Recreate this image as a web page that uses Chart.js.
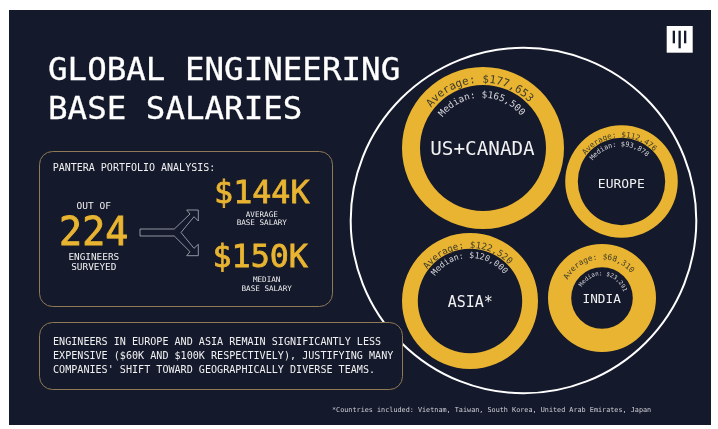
<!DOCTYPE html>
<html>
<head>
<meta charset="utf-8">
<script src="https://cdn.jsdelivr.net/npm/chart.js@4"></script>
<style>
  html, body { margin: 0; padding: 0; background: #fff; }
  #page { position: relative; width: 718px; height: 429px; overflow: hidden; }
  #panel { position: absolute; left: 9px; top: 9.5px; width: 701.5px; height: 415.5px; background: #15192c; }
  canvas { position: absolute; }
  #art { position: absolute; left: 0; top: 0; }
  text { font-family: "DejaVu Sans Mono", monospace; fill: #f1f1f1; dominant-baseline: central; }
</style>
</head>
<body>
<div id="page">
  <div id="panel"></div>
  <svg id="art" width="718" height="429" xmlns="http://www.w3.org/2000/svg"></svg>
</div>
<script>
const regions = ["US+CANADA", "EUROPE", "ASIA*", "INDIA"];
const averages = [177653, 112476, 122520, 68310];
const medians = [165500, 93878, 120000, 23291];

const GOLD = "#e8b431";
const DARK = "#15192c";

// where each ring sits
const rings = [
  { cx: 482.5, cy: 147.5, outer: 81, inner: 63, avgR: 65, avgFont: 10.9, avgRot: -3, medR: 50, medFont: 9.4, medRot: -1, nameFont: 19.3, nameY: 148 },
  { cx: 621.3, cy: 181.7, outer: 56.3, inner: 43.7, avgR: 44.5, avgFont: 7.6, avgRot: -3, medR: 35.5, medFont: 6.8, medRot: -4, nameFont: 13, nameY: 183 },
  { cx: 470.3, cy: 300.8, outer: 68, inner: 52.2, avgR: 53, avgFont: 9.1, avgRot: -3.5, medR: 43, medFont: 8.3, medRot: -1.5, nameFont: 15, nameY: 302 },
  { cx: 601.7, cy: 297.8, outer: 54, inner: 30.8, avgR: 38.5, avgFont: 7.8, avgRot: -6, medR: 22.5, medFont: 5.9, medRot: 6.5, nameFont: 12.7, nameY: 298 }
];

const svg = document.getElementById("art");
const page = document.getElementById("page");

function el(tag, attrs, txt) {
  const node = document.createElementNS("http://www.w3.org/2000/svg", tag);
  for (let k in attrs) node.setAttribute(k, attrs[k]);
  if (txt) node.textContent = txt;
  svg.appendChild(node);
  return node;
}

function label(str, x, y, size, opts) {
  opts = opts || {};
  let style = opts.color ? "fill:" + opts.color : "";
  if (opts.thick) style += `;stroke:${opts.color};stroke-width:${opts.thick}`;
  el("text", {
    x, y,
    "font-size": size,
    "text-anchor": opts.anchor || "middle",
    style
  }, str);
}

function money(v) {
  return "$" + v.toLocaleString("en-US");
}

function curved(id, str, ring, r, rot, size, color) {
  // arc over the top of the ring, tilted a little to match the reference
  const a = rot * Math.PI / 180;
  const x0 = ring.cx - r * Math.cos(a), y0 = ring.cy - r * Math.sin(a);
  const x1 = ring.cx + r * Math.cos(a), y1 = ring.cy + r * Math.sin(a);
  el("path", { id, d: `M${x0},${y0} A${r},${r} 0 0 1 ${x1},${y1}`, fill: "none" });
  const t = el("text", { "font-size": size, "text-anchor": "middle", style: `fill:${color};dominant-baseline:auto` });
  const tp = document.createElementNS("http://www.w3.org/2000/svg", "textPath");
  tp.setAttribute("href", "#" + id);
  tp.setAttribute("startOffset", "50%");
  tp.textContent = str;
  t.appendChild(tp);
}

regions.forEach((name, i) => {
  const ring = rings[i];
  const size = Math.ceil(ring.outer * 2) + 4;
  const canvas = document.createElement("canvas");
  canvas.width = size;
  canvas.height = size;
  canvas.style.left = (ring.cx - size / 2) + "px";
  canvas.style.top = (ring.cy - size / 2) + "px";
  page.insertBefore(canvas, svg);
  new Chart(canvas, {
    type: "doughnut",
    data: {
      labels: [name],
      datasets: [{ data: [averages[i]], backgroundColor: GOLD, borderWidth: 0 }]
    },
    options: {
      responsive: false,
      animation: false,
      radius: ring.outer,
      cutout: (ring.inner / ring.outer * 100) + "%",
      plugins: { legend: { display: false }, tooltip: { enabled: false } }
    }
  });
});

// big white circle and boxes
el("circle", { cx: 523.5, cy: 220.5, r: 172.8, fill: "none", stroke: "#fff", "stroke-width": 2 });
el("rect", { x: 39.5, y: 151.5, width: 293, height: 155, rx: 13, fill: DARK, stroke: "#8f7a55", "stroke-width": 1 });
el("rect", { x: 39.5, y: 322.5, width: 363, height: 67, rx: 13, fill: DARK, stroke: "#8f7a55", "stroke-width": 1 });

// logo
el("rect", { x: 666.7, y: 26, width: 26, height: 26.7, fill: "#fff" });
[[672.7, 12.6], [678.5, 17.6], [684, 12.6]].forEach(b => {
  el("rect", { x: b[0], y: 30.7, width: 2.3, height: b[1], fill: DARK });
});

// title
label("GLOBAL ENGINEERING", 48, 68.5, 32.5, { anchor: "start", color: "#fff", thick: 0.3 });
label("BASE SALARIES", 48, 107.5, 32.5, { anchor: "start", color: "#fff", thick: 0.3 });

// stats box
label("PANTERA PORTFOLIO ANALYSIS:", 52.7, 167.7, 10, { anchor: "start" });
label("OUT OF", 93.7, 205.7, 9.5);
label("224", 93.7, 231, 38.3, { color: GOLD, thick: 0.9 });
label("ENGINEERS", 93.8, 256.7, 9.4);
label("SURVEYED", 93.8, 266.7, 9.4);
label("$144K", 261.8, 192.3, 31.7, { color: GOLD, thick: 0.8 });
label("AVERAGE", 261.8, 214.3, 7.6);
label("BASE SALARY", 261.8, 222, 7.6);
label("$150K", 260.2, 256, 31.7, { color: GOLD, thick: 0.8 });
label("MEDIAN", 266.7, 279, 7.6);
label("BASE SALARY", 266.7, 288.3, 7.6);

// fork arrow
el("path", {
  d: "M140,229 L174.3,229 L190,214 L186.7,210 L198.3,210 L198.3,221 L194,216.7 L181,232.5 L194,248.3 L198.3,244.3 L198.3,255.7 L186.7,255.7 L190,251.7 L174.3,236 L140,236 Z",
  fill: "none", stroke: "#b0b3bd", "stroke-width": 0.8
});

// note box
label("ENGINEERS IN EUROPE AND ASIA REMAIN SIGNIFICANTLY LESS", 53, 341, 10.1, { anchor: "start" });
label("EXPENSIVE ($60K AND $100K RESPECTIVELY), JUSTIFYING MANY", 53, 355, 10.1, { anchor: "start" });
label("COMPANIES' SHIFT TOWARD GEOGRAPHICALLY DIVERSE TEAMS.", 53, 369, 10.1, { anchor: "start" });

label("*Countries included: Vietnam, Taiwan, South Korea, United Arab Emirates, Japan", 332, 410, 6.8, { anchor: "start", color: "#cfd0d6" });

// ring labels
regions.forEach((name, i) => {
  const ring = rings[i];
  label(name, ring.cx, ring.nameY, ring.nameFont);
  curved("avg" + i, "Average: " + money(averages[i]), ring, ring.avgR, ring.avgRot, ring.avgFont, "#403d2c");
  curved("med" + i, "Median: " + money(medians[i]), ring, ring.medR, ring.medRot, ring.medFont, "#d6d6da");
});
</script>
</body>
</html>
